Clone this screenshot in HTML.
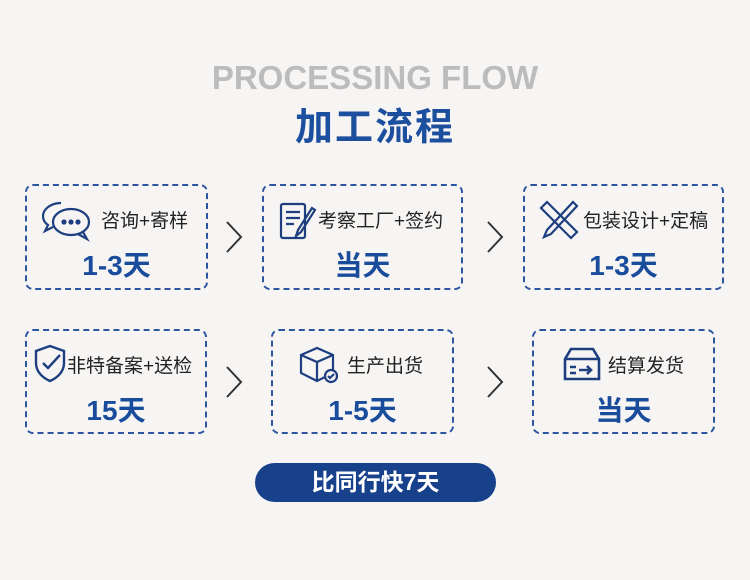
<!DOCTYPE html>
<html><head><meta charset="utf-8"><style>
body{margin:0;width:750px;height:580px;background:#f7f5f4;position:relative;overflow:hidden;font-family:"Liberation Sans","Noto Sans CJK SC",sans-serif}
.t1{position:absolute;top:59px;left:0;width:750px;text-align:center;font-size:33px;font-weight:bold;color:#bcbcbc}
.t2{position:absolute;top:96px;left:0;width:750px;text-align:center;font-size:38px;font-weight:bold;color:#1d4f9f;letter-spacing:2px}
.b{position:absolute;border:2px dashed #2c56a0;border-radius:8px;box-sizing:border-box}
.lab{position:absolute;font-size:19px;color:#222;white-space:nowrap}
.day{position:absolute;left:0;width:100%;text-align:center;font-size:28px;font-weight:bold;color:#1a4c9c}
.ic{position:absolute}
.ar{position:absolute}
.pill{position:absolute;left:255px;top:463px;width:241px;height:39px;border-radius:20px;background:#18418c;color:#fff;font-size:23px;font-weight:bold;text-align:center;line-height:39px}
</style></head><body>
<div class="t1">PROCESSING FLOW</div>
<div class="t2">加工流程</div>

<div class="b" style="left:25px;top:184px;width:183px;height:106px">
<svg class="ic" style="left:14px;top:14px" width="52" height="42" viewBox="0 0 52 42" fill="none" stroke="#1d3f80" stroke-width="2.2"><path d="M20 3C10 3 2 9 2 16c0 4 2 7 5 9l-3 6 8-4"/><ellipse cx="30" cy="22" rx="18" ry="13"/><path d="M42 32l4 7-9-5"/><circle cx="23" cy="22" r="1.5" fill="#1d3f80"/><circle cx="30" cy="22" r="1.5" fill="#1d3f80"/><circle cx="37" cy="22" r="1.5" fill="#1d3f80"/></svg>
<div class="lab" style="left:74px;top:20px">咨询+寄样</div>
<div class="day" style="top:58px">1-3天</div></div>
<svg class="ar" style="left:224px;top:220px" width="20" height="34"><polyline points="3,2 17,17 3,32" fill="none" stroke="#333" stroke-width="2"/></svg>

<div class="b" style="left:262px;top:184px;width:201px;height:106px">
<svg class="ic" style="left:14px;top:14px" width="40" height="42" viewBox="0 0 40 42" fill="none" stroke="#1d3f80" stroke-width="2.2"><rect x="3" y="4" width="24" height="34" rx="2"/><path d="M8 12h14M8 18h14M8 24h8"/><path d="M34 8l-14 22-2 6 5-4 14-22z"/></svg>
<div class="lab" style="left:54px;top:20px">考察工厂+签约</div>
<div class="day" style="top:58px">当天</div></div>
<svg class="ar" style="left:485px;top:220px" width="20" height="34"><polyline points="3,2 17,17 3,32" fill="none" stroke="#333" stroke-width="2"/></svg>

<div class="b" style="left:523px;top:184px;width:201px;height:106px">
<svg class="ic" style="left:12px;top:12px" width="44" height="44" viewBox="0 0 44 44" fill="none" stroke="#1d3f80" stroke-width="2.2"><path d="M4 10l6-6 30 30-6 6z"/><path d="M36 4l4 4-26 28-7 3 3-7z"/></svg>
<div class="lab" style="left:58px;top:20px">包装设计+定稿</div>
<div class="day" style="top:58px">1-3天</div></div>

<div class="b" style="left:25px;top:329px;width:182px;height:105px">
<svg class="ic" style="left:6px;top:12px" width="34" height="40" viewBox="0 0 34 40" fill="none" stroke="#1d3f80" stroke-width="2.4"><path d="M17 3L3 8v12c0 9 7 15 14 18 7-3 14-9 14-18V8z"/><path d="M10 20l5 5 12-13"/></svg>
<div class="lab" style="left:40px;top:20px">非特备案+送检</div>
<div class="day" style="top:58px">15天</div></div>
<svg class="ar" style="left:224px;top:365px" width="20" height="34"><polyline points="3,2 17,17 3,32" fill="none" stroke="#333" stroke-width="2"/></svg>

<div class="b" style="left:271px;top:329px;width:183px;height:105px">
<svg class="ic" style="left:24px;top:14px" width="44" height="40" viewBox="0 0 44 40" fill="none" stroke="#1d3f80" stroke-width="2.2"><path d="M4 10l16-7 16 7v18l-16 8-16-8z"/><path d="M4 10l16 7 16-7M20 17v19"/><circle cx="34" cy="31" r="6" fill="#f7f5f4"/><path d="M31 31l2 2 4-4"/></svg>
<div class="lab" style="left:74px;top:20px">生产出货</div>
<div class="day" style="top:58px">1-5天</div></div>
<svg class="ar" style="left:485px;top:365px" width="20" height="34"><polyline points="3,2 17,17 3,32" fill="none" stroke="#333" stroke-width="2"/></svg>

<div class="b" style="left:532px;top:329px;width:183px;height:105px">
<svg class="ic" style="left:28px;top:14px" width="40" height="38" viewBox="0 0 40 38" fill="none" stroke="#1d3f80" stroke-width="2.6"><path d="M3 14l6-10h22l6 10v20H3z"/><path d="M3 14h34M8 22h6M8 28h6M17 25h12M25 21l4 4-4 4"/></svg>
<div class="lab" style="left:74px;top:20px">结算发货</div>
<div class="day" style="top:58px">当天</div></div>

<div class="pill">比同行快7天</div>
</body></html>
